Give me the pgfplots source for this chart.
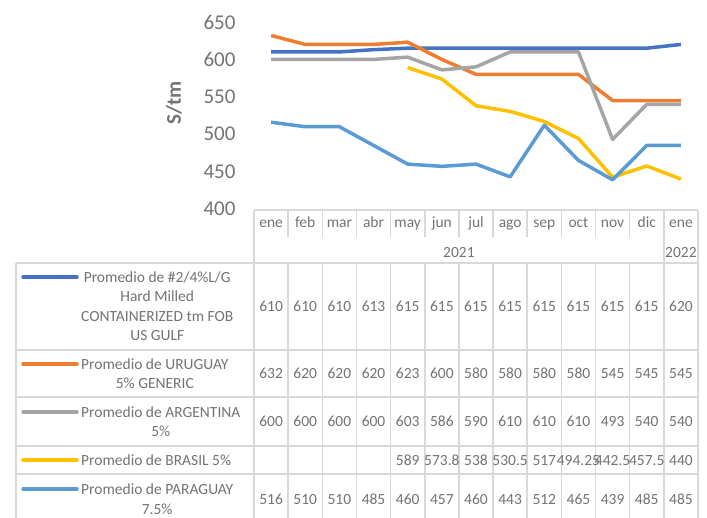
\documentclass[border=0pt]{standalone}
\usepackage{pgfplots}
\pgfplotsset{compat=1.18}
\usepackage{pgfplotstable}
\usepackage{fontspec}
\setmainfont{Carlito}
\definecolor{txt}{HTML}{737373}
\definecolor{gridc}{HTML}{D9D9D9}
\definecolor{cgulf}{HTML}{4472C4}
\definecolor{curu}{HTML}{ED7D31}
\definecolor{carg}{HTML}{A5A5A5}
\definecolor{cbra}{HTML}{FFC000}
\definecolor{cpar}{HTML}{5B9BD5}

\pgfplotstableread{
x gulf uru arg bra par
0 610 632 600 nan 516
1 610 620 600 nan 510
2 610 620 600 nan 510
3 613 620 600 nan 485
4 615 623 603 589 460
5 615 600 586 573.8 457
6 615 580 590 538 460
7 615 580 610 530.5 443
8 615 580 610 517 512
9 615 580 610 494.25 465
10 615 545 493 442.5 439
11 615 545 540 457.5 485
12 620 545 540 440 485
}\data

\begin{document}
\begin{tikzpicture}
\useasboundingbox (0pt,0pt) rectangle (707pt,-518pt);
\begin{axis}[at={(254pt,-209pt)}, anchor=south west, scale only axis,
  width=444pt, height=187pt, xmin=-0.5, xmax=12.5, ymin=400, ymax=650,
  ytick={400,450,...,650}, xtick=\empty, axis line style={draw=none},
  major tick length=0pt, /pgf/number format/assume math mode=true,
  yticklabel style={font=\fontsize{21}{21}\selectfont, text=txt, xshift=-15pt},
  ylabel={S/tm},
  ylabel style={at={(axis description cs:-0.18,0.567)}, anchor=center,
    font=\fontsize{21}{21}\selectfont\bfseries, text=txt},
  clip=false,
  every axis plot/.append style={line width=3.5pt, line join=round, mark=none}]
\addplot[cgulf] table[x=x,y=gulf]{\data};
\addplot[curu] table[x=x,y=uru]{\data};
\addplot[carg] table[x=x,y=arg]{\data};
\addplot[cbra] table[x=x,y=bra]{\data};
\addplot[cpar] table[x=x,y=par]{\data};
\end{axis}

\begin{scope}[x=1pt,y=-1pt, every node/.style={inner sep=0pt, text=txt, font=\fontsize{15.5}{19.5}\selectfont}]
\begin{scope}[gridc, line width=1.5pt]
\draw (254,210) -- (698,210);
\foreach \k in {1,...,11} \draw ({254+34.154*\k},210) -- ({254+34.154*\k},237);
\draw ({254+34.154*12},210) -- ({254+34.154*12},263);
\draw (254,210) -- (254,518);
\draw (698,210) -- (698,518);
\foreach \yy in {263,350,397,446,474} \draw (16,\yy) -- (698,\yy);
\draw (16,263) -- (16,518);
\foreach \k in {1,...,12} \draw ({254+34.154*\k},263) -- ({254+34.154*\k},518);
\end{scope}

\foreach \m [count=\i from 0] in {ene,feb,mar,abr,may,jun,jul,ago,sep,oct,nov,dic,ene}
  \node[anchor=base] at ({254+34.154*(\i+0.5)},227.5) {\m};
\node[anchor=base] at ({254+34.154*6},257.5) {2021};
\node[anchor=base] at ({254+34.154*12.5},257.5) {2022};

\foreach \v [count=\i from 0] in {610,610,610,613,615,615,615,615,615,615,615,615,620}
  \node[anchor=base] at ({254+34.154*(\i+0.5)},312) {\v};
\foreach \v [count=\i from 0] in {632,620,620,620,623,600,580,580,580,580,545,545,545}
  \node[anchor=base] at ({254+34.154*(\i+0.5)},379) {\v};
\foreach \v [count=\i from 0] in {600,600,600,600,603,586,590,610,610,610,493,540,540}
  \node[anchor=base] at ({254+34.154*(\i+0.5)},427) {\v};
\foreach \v [count=\i from 4] in {589,573.8,538,530.5,517,494.25,442.5,457.5,440}
  \node[anchor=base] at ({254+34.154*(\i+0.5)},465) {\v};
\foreach \v [count=\i from 0] in {516,510,510,485,460,457,460,443,512,465,439,485,485}
  \node[anchor=base] at ({254+34.154*(\i+0.5)},504) {\v};

\begin{scope}[line width=3.5pt, line cap=round]
\draw[cgulf] (23,277) -- (77,277);
\draw[curu] (23,364) -- (77,364);
\draw[carg] (23,412) -- (77,412);
\draw[cbra] (23,460) -- (77,460);
\draw[cpar] (23,489) -- (77,489);
\end{scope}
\node[anchor=base west] at (81,282.5) {\begin{tabular}[t]{@{}c@{}}Promedio de \#2/4\%L/G\\Hard Milled\\CONTAINERIZED tm FOB\\US GULF\end{tabular}};
\node[anchor=base west] at (81,369.5) {\begin{tabular}[t]{@{}c@{}}Promedio de URUGUAY\\5\% GENERIC\end{tabular}};
\node[anchor=base west] at (81,417.5) {\begin{tabular}[t]{@{}c@{}}Promedio de ARGENTINA\\5\%\end{tabular}};
\node[anchor=base west] at (81,465.5) {\begin{tabular}[t]{@{}c@{}}Promedio de BRASIL 5\%\end{tabular}};
\node[anchor=base west] at (81,494.5) {\begin{tabular}[t]{@{}c@{}}Promedio de PARAGUAY\\7.5\%\end{tabular}};
\end{scope}
\end{tikzpicture}
\end{document}
